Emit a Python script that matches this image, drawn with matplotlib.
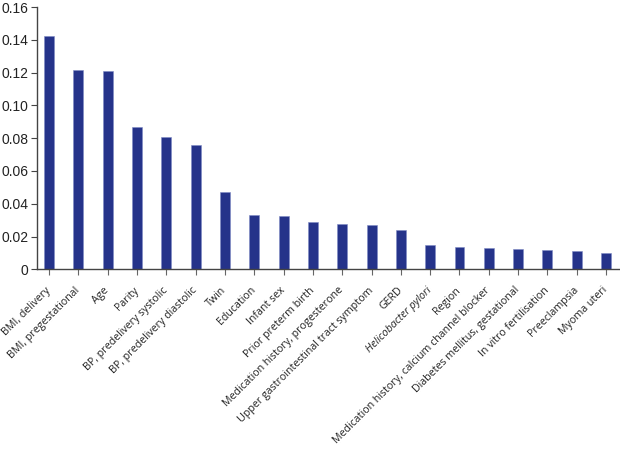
import matplotlib
matplotlib.use("Agg")
import matplotlib.pyplot as plt
from matplotlib.transforms import ScaledTranslation

categories = ["BMI, delivery", "BMI, pregestational", "Age", "Parity",
              "BP, predelivery systolic", "BP, predelivery diastolic", "Twin",
              "Education", "Infant sex", "Prior preterm birth",
              "Medication history, progesterone",
              "Upper gastrointestinal tract symptom", "GERD",
              "Helicobacter pylori", "Region",
              "Medication history, calcium channel blocker",
              "Diabetes mellitus, gestational", "In vitro fertilisation",
              "Preeclampsia", "Myoma uteri"]
values = [0.1425, 0.1213, 0.1209, 0.0867, 0.0808, 0.0761, 0.0472, 0.0330,
          0.0326, 0.0291, 0.0277, 0.0271, 0.0242, 0.0147, 0.0139, 0.0132,
          0.0126, 0.0116, 0.0110, 0.0102]
yticks = [0, 0.02, 0.04, 0.06, 0.08, 0.10, 0.12, 0.14, 0.16]
ytick_labels = ["0", "0.02", "0.04", "0.06", "0.08", "0.10", "0.12", "0.14", "0.16"]

fig = plt.figure(figsize=(6.2, 4.53), dpi=100)
ax = fig.add_axes([37/620, 1 - 269.3/453, (619-37)/620, (269.3-7)/453])
x = list(range(len(categories)))
ax.bar(x, values, width=0.34, color="#25338a", edgecolor="#7f8ac4", linewidth=0.4)
ax.set_xlim(-0.41, 19.44)
ax.set_ylim(0, 0.16)
ax.set_yticks(yticks)
ax.set_yticklabels(ytick_labels, fontsize=10, family="Liberation Sans", color="#222222")
ax.set_xticks(x)
labels = ax.set_xticklabels(categories, rotation=45, ha="right", va="center",
                            rotation_mode="anchor",
                            fontsize=7.7, family="Open Sans", color="#222222")
offset = ScaledTranslation(6/100, 0, fig.dpi_scale_trans)
for lab in labels:
    lab.set_transform(lab.get_transform() + offset)
    if lab.get_text() == "Helicobacter pylori":
        lab.set_style("italic")
for s in ["top", "right"]:
    ax.spines[s].set_visible(False)
for s in ["left", "bottom"]:
    ax.spines[s].set_color("#444444")
    ax.spines[s].set_linewidth(1.0)
ax.tick_params(axis="x", length=4, color="#666666", pad=10)
ax.tick_params(axis="y", length=4, color="#444444", pad=2)
fig.savefig("out.png", dpi=100)
